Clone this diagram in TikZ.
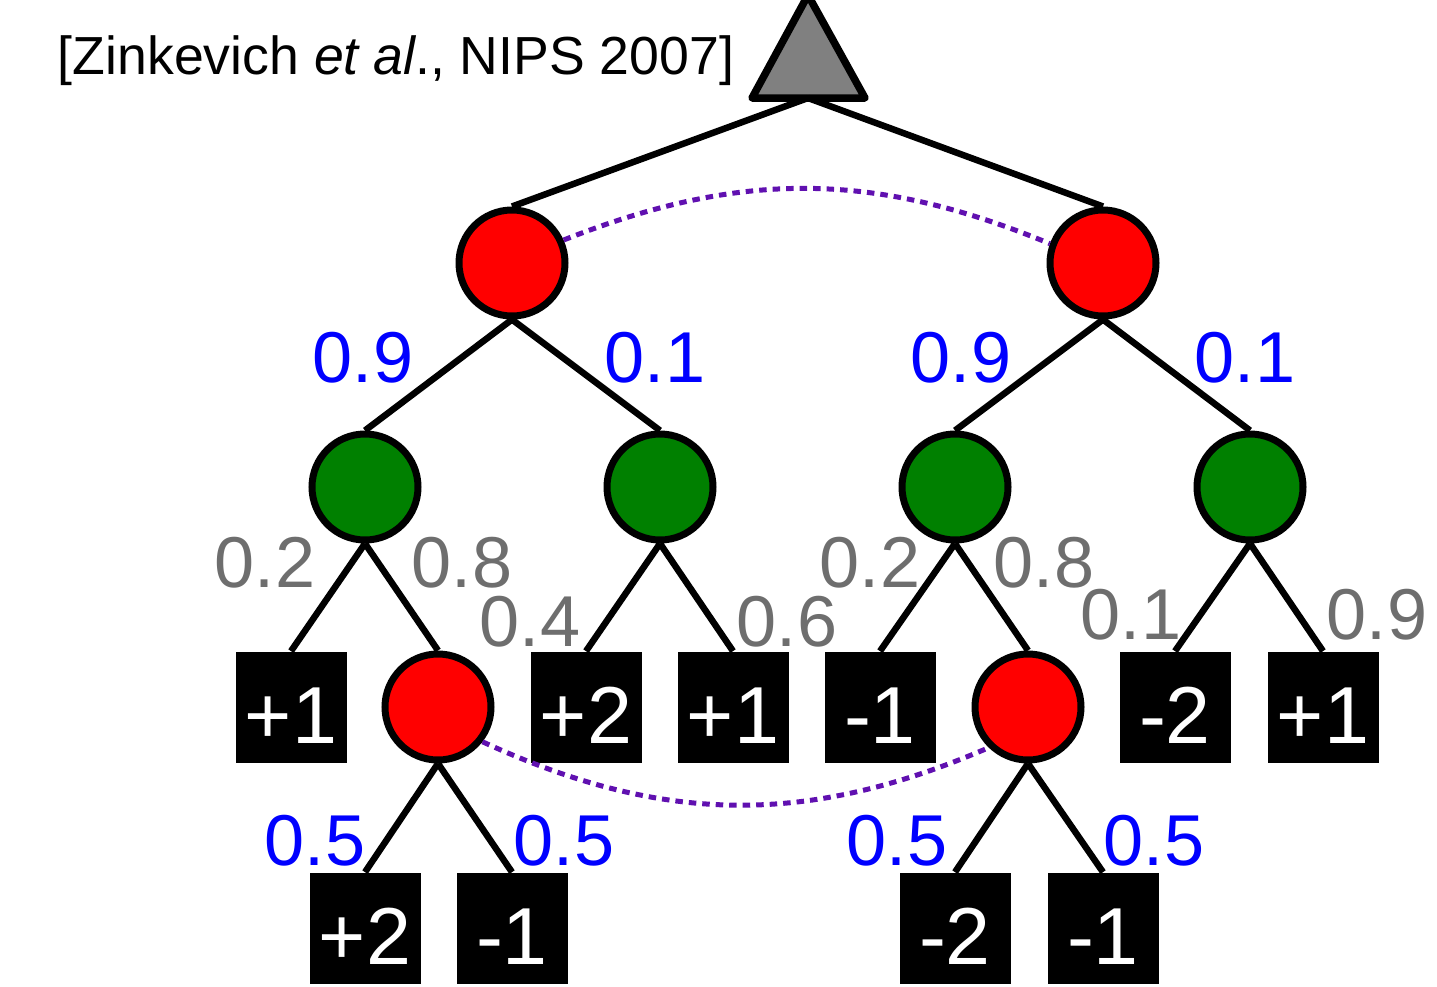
\documentclass[tikz,border=0pt]{standalone}
\usepackage{fontspec}
\setmainfont{Liberation Sans}
\definecolor{decred}{RGB}{255,0,0}
\definecolor{chgreen}{RGB}{0,128,0}
\definecolor{probgray}{RGB}{110,110,110}
\definecolor{infoset}{RGB}{96,16,176}
\newcommand{\labelfont}{\fontsize{41}{41}\selectfont}
\newcommand{\boxfont}{\fontsize{46}{46}\selectfont}
\begin{document}
\begin{tikzpicture}[
    decision/.style={circle,draw,fill=decred,line width=0.14cm,minimum size=2.12cm,inner sep=0pt},
    chance/.style={circle,draw,fill=chgreen,line width=0.14cm,minimum size=2.12cm,inner sep=0pt},
    payoff/.style={rectangle,fill=black,text=white,minimum size=2.22cm,inner sep=0pt,font=\boxfont,text height=1.44cm,text depth=0pt},
    pblue/.style={text=blue,inner sep=0pt,font=\labelfont},
    pgray/.style={text=probgray,inner sep=0pt,font=\labelfont},
    edge/.style={line width=0.13cm},
    link/.style={draw=infoset,line width=0.1cm,dash pattern=on 0.15cm off 0.12cm}]
    \useasboundingbox (0,0) rectangle (28.74,-19.74);
    % root
    \filldraw[fill=gray,line width=0.15cm,line join=round] (16.16,0.1)--(15.04,-1.96)--(17.30,-1.96)--cycle;
    \coordinate (root) at (16.16,-1.96);
    \node[anchor=base,inner sep=0pt,font=\fontsize{30.5}{31}\selectfont] (cite) at (7.92,-1.48) {[Zinkevich \textit{et al}., NIPS 2007]};
    % player nodes and chance nodes
    \node[decision] (d1) at (10.24,-5.26) {};
    \node[decision] (d2) at (22.06,-5.26) {};
    \node[chance] (c1) at (7.30,-9.74) {};
    \node[chance] (c2) at (13.20,-9.74) {};
    \node[chance] (c3) at (19.10,-9.74) {};
    \node[chance] (c4) at (25.00,-9.74) {};
    % third row
    \node[payoff] (t1) at (5.82,-14.14) {+1};
    \node[decision] (d3) at (8.76,-14.14) {};
    \node[payoff] (t2) at (11.72,-14.14) {+2};
    \node[payoff] (t3) at (14.66,-14.14) {+1};
    \node[payoff] (t4) at (17.60,-14.14) {-1};
    \node[decision] (d4) at (20.56,-14.14) {};
    \node[payoff] (t5) at (23.50,-14.14) {-2};
    \node[payoff] (t6) at (26.46,-14.14) {+1};
    % last row
    \node[payoff] (t7) at (7.30,-18.56) {+2};
    \node[payoff] (t8) at (10.24,-18.56) {-1};
    \node[payoff] (t9) at (19.10,-18.56) {-2};
    \node[payoff] (t10) at (22.06,-18.56) {-1};
    % edges
    \draw[edge] (root)--(d1.north);
    \draw[edge] (root)--(d2.north);
    \foreach \a/\b in {d1/c1,d1/c2,d2/c3,d2/c4,c1/t1,c1/d3,c2/t2,c2/t3,c3/t4,c3/d4,c4/t5,c4/t6,d3/t7,d3/t8,d4/t9,d4/t10}
        \draw[edge] (\a.south)--(\b.north);
    % information sets
    \draw[link] (d1.24) to[bend left=22] (d2.160);
    \draw[link] (d3.-38) to[bend right=24] (d4.-134);
    % probabilities
    \node[pblue] (p1) at (7.26,-7.16) {0.9};
    \node[pblue] (p2) at (13.10,-7.16) {0.1};
    \node[pblue] (p3) at (19.22,-7.16) {0.9};
    \node[pblue] (p4) at (24.90,-7.16) {0.1};
    \node[pgray] (q1) at (5.30,-11.26) {0.2};
    \node[pgray] (q2) at (9.24,-11.26) {0.8};
    \node[pgray] (q3) at (10.60,-12.44) {0.4};
    \node[pgray] (q4) at (15.74,-12.44) {0.6};
    \node[pgray] (q5) at (17.40,-11.26) {0.2};
    \node[pgray] (q6) at (20.88,-11.26) {0.8};
    \node[pgray] (q7) at (22.62,-12.30) {0.1};
    \node[pgray] (q8) at (27.54,-12.30) {0.9};
    \node[pblue] (p5) at (6.30,-16.82) {0.5};
    \node[pblue] (p6) at (11.28,-16.82) {0.5};
    \node[pblue] (p7) at (17.94,-16.82) {0.5};
    \node[pblue] (p8) at (23.08,-16.82) {0.5};
\end{tikzpicture}
\end{document}
